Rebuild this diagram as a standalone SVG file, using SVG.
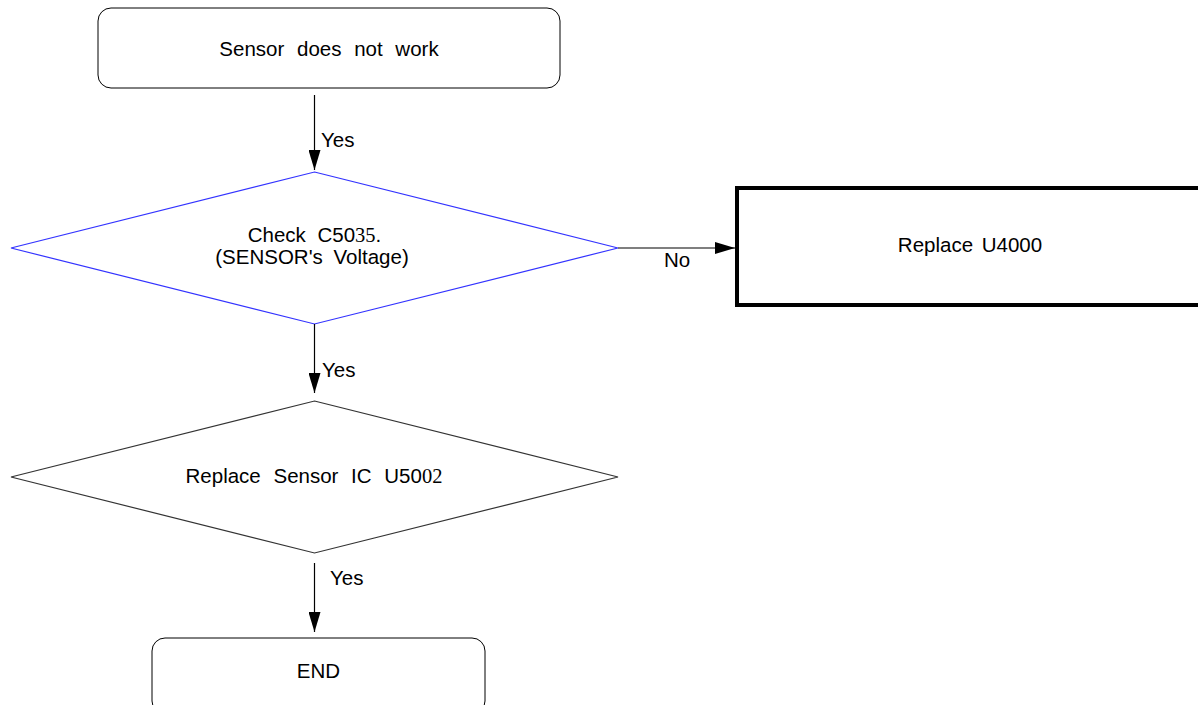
<svg xmlns="http://www.w3.org/2000/svg" width="1198" height="705" viewBox="0 0 1198 705">
<style>
text{font-family:"Liberation Sans",Arial,sans-serif;font-size:20.5px;fill:#000}
.c{text-anchor:middle}
.serif{font-family:"Liberation Serif","Times New Roman",serif}
.box{fill:#fff;stroke:#000;stroke-width:1}
.conn{stroke:#000;stroke-width:1.2;fill:none}
</style>
<defs>
<marker id="ah" markerUnits="userSpaceOnUse" markerWidth="20" markerHeight="12" refX="20" refY="6" orient="auto">
<path d="M0,0 L20,6 L0,12 z" fill="#000"/>
</marker>
</defs>
<rect width="1198" height="705" fill="#fff"/>
<g id="start">
<rect class="box" x="98" y="8" width="462" height="80" rx="13"/>
<text class="c" x="329" y="56" word-spacing="7">Sensor does not work</text>
</g>
<g id="check">
<polygon points="314.5,172 618,248 314.5,324 11,248" fill="#fff" stroke="#3333ff" stroke-width="1.2"/>
<text class="c" x="314.5" y="242" word-spacing="6">Check C50<tspan class="serif">35</tspan>.</text>
<text class="c" x="312" y="264" word-spacing="5">(SENSOR's Voltage)</text>
</g>
<g id="replaceU4000">
<rect x="737" y="188" width="470" height="117" fill="#fff" stroke="#000" stroke-width="4"/>
<text class="c" x="970" y="252" word-spacing="3">Replace U4000</text>
</g>
<g id="replaceSensor">
<polygon points="314.5,401 618,477 314.5,553 11,477" fill="#fff" stroke="#333" stroke-width="1.2"/>
<text class="c" x="314" y="483" word-spacing="7">Replace Sensor IC U50<tspan class="serif">02</tspan></text>
</g>
<g id="end">
<rect class="box" x="152" y="638" width="333" height="76" rx="13"/>
<text class="c" x="318.5" y="678">END</text>
</g>
<g id="connectors">
<line class="conn" x1="314.5" y1="95" x2="314.5" y2="170" marker-end="url(#ah)"/>
<text x="321" y="147">Yes</text>
<line class="conn" x1="314.5" y1="324" x2="314.5" y2="393" marker-end="url(#ah)"/>
<text x="322" y="377">Yes</text>
<line class="conn" x1="314.5" y1="563" x2="314.5" y2="632" marker-end="url(#ah)"/>
<text x="330" y="585">Yes</text>
<line class="conn" x1="618" y1="248" x2="735" y2="248" marker-end="url(#ah)"/>
<text x="664" y="267">No</text>
</g>
</svg>
